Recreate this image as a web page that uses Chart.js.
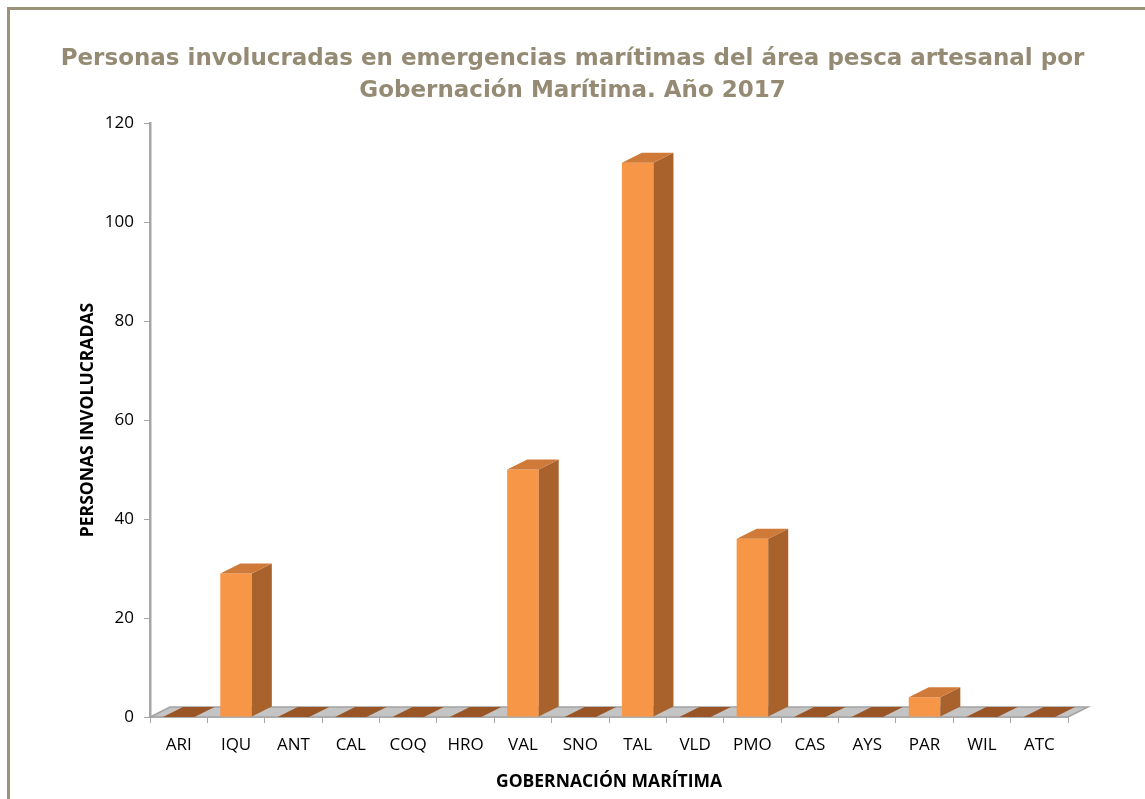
<!DOCTYPE html>
<html>
<head>
<meta charset="utf-8">
<script src="https://cdn.jsdelivr.net/npm/chart.js@4"></script>
<style>
  html, body { margin: 0; padding: 0; background: #fff; }
  #wrap { position: relative; width: 1145px; height: 799px; overflow: hidden; }
  #frame { position: absolute; left: 7px; top: 7px; width: 1200px; height: 900px;
           border-top: 3px solid #9B9279; border-left: 3px solid #9B9279; }
  canvas { position: absolute; left: 0; top: 0; }
</style>
</head>
<body>
<div id="wrap">
  <div id="frame"></div>
  <canvas id="c" width="1145" height="799"></canvas>
</div>
<script>
const categories = ['ARI','IQU','ANT','CAL','COQ','HRO','VAL','SNO','TAL','VLD','PMO','CAS','AYS','PAR','WIL','ATC'];
const personas = [0, 29, 0, 0, 0, 0, 50, 0, 112, 0, 36, 0, 0, 4, 0, 0];
const yTicks = [0, 20, 40, 60, 80, 100, 120];
const titleLines = ['Personas involucradas en emergencias marítimas del área pesca artesanal por', 'Gobernación Marítima. Año 2017'];
const xTitle = 'GOBERNACIÓN MARÍTIMA';
const yTitle = 'PERSONAS INVOLUCRADAS';

const DX = 20, DY = 10;

const bar3d = {
  id: 'bar3d',
  beforeDatasetsDraw(chart) {
    const { ctx, chartArea: a } = chart;
    ctx.save();
    ctx.beginPath();
    ctx.moveTo(a.left, a.bottom);
    ctx.lineTo(a.right, a.bottom);
    ctx.lineTo(a.right + DX, a.bottom - DY);
    ctx.lineTo(a.left + DX, a.bottom - DY);
    ctx.closePath();
    ctx.fillStyle = '#C4C4C4';
    ctx.fill();
    ctx.strokeStyle = '#A3A3A3';
    ctx.lineWidth = 1.5;
    ctx.stroke();
    ctx.restore();
  },
  afterDatasetsDraw(chart) {
    const { ctx } = chart;
    const meta = chart.getDatasetMeta(0);
    ctx.save();
    meta.data.forEach((el) => {
      const p = el.getProps(['x', 'y', 'base', 'width'], true);
      const l = p.x - p.width / 2, r = p.x + p.width / 2;
      const top = Math.min(p.y, p.base), base = Math.max(p.y, p.base);
      const zero = Math.abs(base - top) < 0.5;
      if (!zero) {
        ctx.beginPath();
        ctx.moveTo(r, top);
        ctx.lineTo(r + DX, top - DY);
        ctx.lineTo(r + DX, base - DY);
        ctx.lineTo(r, base);
        ctx.closePath();
        ctx.fillStyle = '#A9622C';
        ctx.fill();
      }
      ctx.beginPath();
      ctx.moveTo(l, top);
      ctx.lineTo(l + DX, top - DY);
      ctx.lineTo(r + DX, top - DY);
      ctx.lineTo(r, top);
      ctx.closePath();
      ctx.fillStyle = zero ? '#9A5526' : '#CF7A38';
      ctx.fill();
    });
    ctx.restore();
  }
};

new Chart(document.getElementById('c'), {
  type: 'bar',
  data: {
    labels: categories,
    datasets: [{
      data: personas,
      backgroundColor: '#F79646',
      borderWidth: 0,
      categoryPercentage: 1,
      barPercentage: 0.55
    }]
  },
  options: {
    responsive: false,
    animation: false,
    layout: { padding: { left: 0, right: 0, top: 0, bottom: 0 } },
    plugins: {
      legend: { display: false },
      tooltip: { enabled: false },
      title: {
        display: true,
        text: titleLines,
        color: '#958B75',
        font: { family: 'DejaVu Sans', size: 23, weight: 'bold', lineHeight: 1.35 },
        padding: { top: 44, bottom: 17 }
      }
    },
    scales: {
      x: {
        afterFit: (s) => { s.height = 82; },
        grid: { display: true, drawOnChartArea: false, offset: true, tickLength: 6, color: '#A6A6A6', lineWidth: 1 },
        border: { display: true, color: '#A6A6A6', width: 1.5 },
        ticks: { color: '#000', font: { family: 'Open Sans', size: 17 }, padding: 12, maxRotation: 0, autoSkip: false },
        title: { display: true, text: xTitle, color: '#000', font: { family: 'Open Sans', size: 17.5, weight: 'bold' }, padding: { top: 0, bottom: 6 } }
      },
      y: {
        min: 0, max: 120,
        afterFit: (s) => { s.width = 150; },
        afterBuildTicks: (s) => { s.ticks = yTicks.map(v => ({ value: v })); },
        grid: { display: true, drawOnChartArea: false, tickLength: 6, color: '#A6A6A6' },
        border: { display: true, color: '#A6A6A6', width: 2.5 },
        ticks: { color: '#000', font: { family: 'Open Sans', size: 17 }, padding: 10 },
        title: { display: true, text: yTitle, color: '#000', font: { family: 'Open Sans', size: 17.5, weight: 'bold' }, padding: { top: 78, bottom: 0 } }
      },
      yRight: {
        position: 'right',
        display: true,
        min: 0, max: 120,
        afterFit: (s) => { s.width = 77; },
        grid: { display: false },
        border: { display: false },
        ticks: { display: false }
      }
    }
  },
  plugins: [bar3d]
});
</script>
</body>
</html>
